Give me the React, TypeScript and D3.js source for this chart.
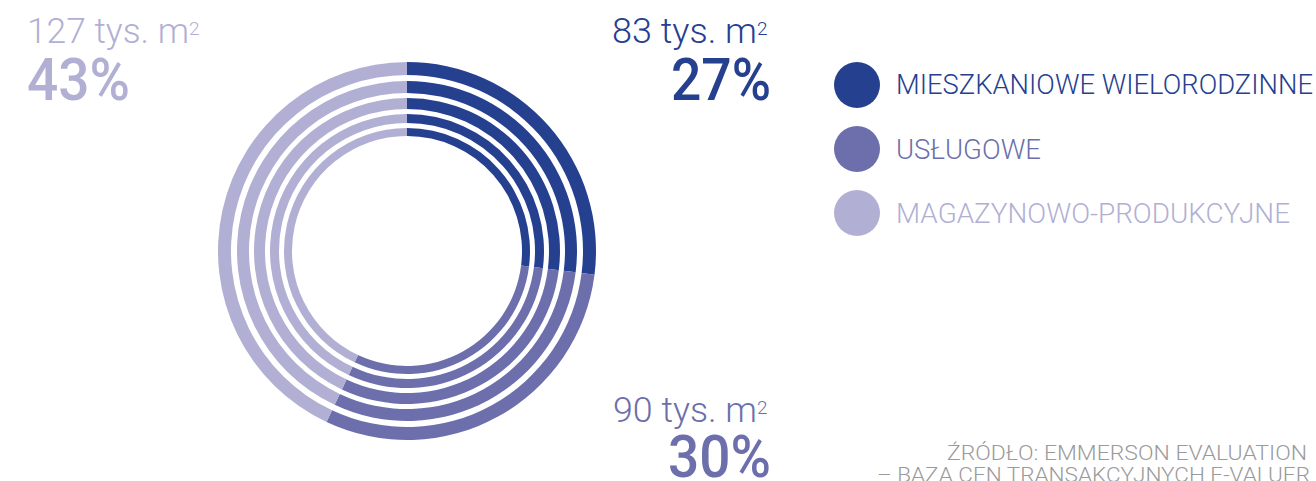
import React from "react";
import * as d3 from "d3";

const categories = ["MIESZKANIOWE WIELORODZINNE", "USŁUGOWE", "MAGAZYNOWO-PRODUKCYJNE"];
const areas = [83, 90, 127]; // tys. m2
const shares = [27, 30, 43]; // %
const colors = ["#25408f", "#6c6fab", "#b1b0d4"];
const sourceLines = ["ŹRÓDŁO: EMMERSON EVALUATION", "– BAZA CEN TRANSAKCYJNYCH E-VALUER"];

const W = 1316;
const H = 481;
const cx = 407;
const cy = 251;
const rings: [number, number][] = [
  [115, 123],
  [128, 137],
  [142, 153],
  [158, 170],
  [176, 189],
];

const FONT = "Roboto, 'Open Sans', sans-serif";

const labelPos = [
  { x: 771, yS: 43, yB: 100, anchor: "end", wS: 159, wB: 100 },
  { x: 771, yS: 422, yB: 477, anchor: "end", wS: 158, wB: 103 },
  { x: 27, yS: 43, yB: 100, anchor: "start", wS: 176, wB: 103 },
];

const legendWidths = [417, 145, 394];

export default function App() {
  const pie = d3.pie<number>().sort(null).value((d) => d)(shares);
  const arcs = rings.map(([ri, ro]) => d3.arc<d3.PieArcDatum<number>>().innerRadius(ri).outerRadius(ro));

  return (
    <svg
      width={W}
      height={H}
      style={{ position: "absolute", left: 0, top: 0, display: "block", background: "#fff" }}
      fontFamily={FONT}
    >
      <g transform={`translate(${cx},${cy})`}>
        {arcs.map((arc, ri) =>
          pie.map((p, i) => <path key={`${ri}-${i}`} d={arc(p) || ""} fill={colors[i]} />)
        )}
      </g>

      {areas.map((a, i) => {
        const lp = labelPos[i];
        const supW = 12;
        const mainText = `${a} tys. m`;
        const mainStart = lp.anchor === "end" ? lp.x - lp.wS : lp.x;
        const mainW = lp.wS - supW - 2;
        return (
          <g key={i} fill={colors[i]}>
            <text
              x={mainStart}
              y={lp.yS}
              fontSize={35}
              fontWeight={300}
              textLength={mainW}
              lengthAdjust="spacingAndGlyphs"
            >
              {mainText}
            </text>
            <text x={mainStart + mainW} y={lp.yS - 8} fontSize={19} fontWeight={300}>
              2
            </text>
            <text
              x={lp.anchor === "end" ? lp.x - lp.wB : lp.x}
              y={lp.yB}
              fontSize={59}
              fontWeight={500}
              textLength={lp.wB}
              lengthAdjust="spacingAndGlyphs"
            >
              {`${shares[i]}%`}
            </text>
          </g>
        );
      })}

      {categories.map((c, i) => (
        <g key={c}>
          <circle cx={857} cy={85 + i * 64} r={23} fill={colors[i]} />
          <text
            x={896}
            y={94 + i * 64.5}
            fontSize={28}
            fontWeight={300}
            fill={colors[i]}
            textLength={legendWidths[i]}
            lengthAdjust="spacingAndGlyphs"
          >
            {c}
          </text>
        </g>
      ))}

      <text
        x={947}
        y={460}
        fontSize={21}
        fontWeight={300}
        fill="#9a9a9a"
        textLength={360}
        lengthAdjust="spacingAndGlyphs"
      >
        {sourceLines[0]}
      </text>
      <text
        x={877}
        y={482}
        fontSize={21}
        fontWeight={300}
        fill="#9a9a9a"
        textLength={433}
        lengthAdjust="spacingAndGlyphs"
      >
        {sourceLines[1]}
      </text>
    </svg>
  );
}
